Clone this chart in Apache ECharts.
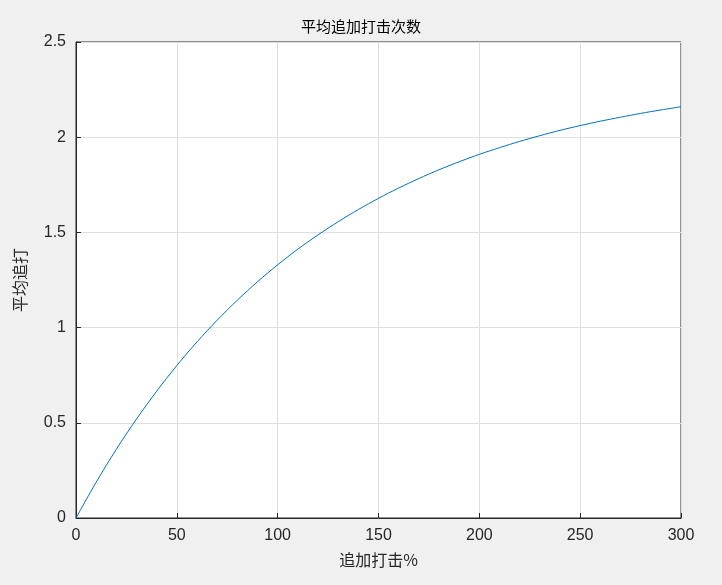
<!DOCTYPE html>
<html>
<head>
<meta charset="utf-8">
<script src="https://cdn.jsdelivr.net/npm/echarts@6/dist/echarts.min.js"></script>
<style>
  html, body { margin: 0; padding: 0; background: #f0f0f0; }
  #chart { width: 722px; height: 585px; }
</style>
</head>
<body>
<div id="chart"></div>
<script>
var xValues = [0, 10, 20, 30, 40, 50, 60, 70, 80, 90, 100, 110, 120, 130, 140, 150,
  160, 170, 180, 190, 200, 210, 220, 230, 240, 250, 260, 270, 280, 290, 300];
var yValues = [0, 0.188, 0.361, 0.520, 0.666, 0.801, 0.925, 1.039, 1.144, 1.241, 1.330,
  1.412, 1.487, 1.556, 1.620, 1.679, 1.733, 1.783, 1.829, 1.871, 1.910, 1.945, 1.978,
  2.008, 2.036, 2.061, 2.084, 2.105, 2.125, 2.143, 2.160];

var points = xValues.map(function (x, i) { return [x, yValues[i]]; });

var myChart = echarts.init(document.getElementById('chart'));
var font = '"Liberation Sans", "Noto Sans CJK SC", sans-serif';
var cjk = '"Noto Sans CJK SC", sans-serif';

option = {
  backgroundColor: '#f0f0f0',
  title: {
    text: '平均追加打击次数',
    left: 'center',
    top: 14,
    textStyle: { fontSize: 15, fontWeight: 'normal', color: '#000', fontFamily: cjk }
  },
  grid: {
    left: 76, right: 41, top: 42, bottom: 67,
    show: true, backgroundColor: '#fff', borderColor: '#262626', borderWidth: 1
  },
  xAxis: {
    type: 'value', min: 0, max: 300, interval: 50,
    name: '追加打击%', nameLocation: 'middle', nameGap: 34,
    nameTextStyle: { fontSize: 16, color: '#262626', fontFamily: cjk },
    axisLine: { lineStyle: { color: '#262626' } },
    axisTick: { inside: true, lineStyle: { color: '#262626' } },
    axisLabel: { fontSize: 16, color: '#262626', fontFamily: font, margin: 10 },
    splitLine: { lineStyle: { color: '#dfdfdf' } }
  },
  yAxis: {
    type: 'value', min: 0, max: 2.5, interval: 0.5,
    name: '平均追打', nameLocation: 'middle', nameGap: 48,
    nameTextStyle: { fontSize: 16, color: '#262626', fontFamily: cjk },
    axisLine: { show: true, lineStyle: { color: '#262626' } },
    axisTick: { show: true, inside: true, lineStyle: { color: '#262626' } },
    axisLabel: { fontSize: 16, color: '#262626', fontFamily: font, margin: 10 },
    splitLine: { lineStyle: { color: '#dfdfdf' } }
  },
  series: [{
    type: 'line',
    data: points,
    smooth: 0.3,
    showSymbol: false,
    lineStyle: { color: '#0072bd', width: 1 }
  }]
};

myChart.setOption(option);
window.addEventListener('resize', function () { myChart.resize(); });
</script>
</body>
</html>
